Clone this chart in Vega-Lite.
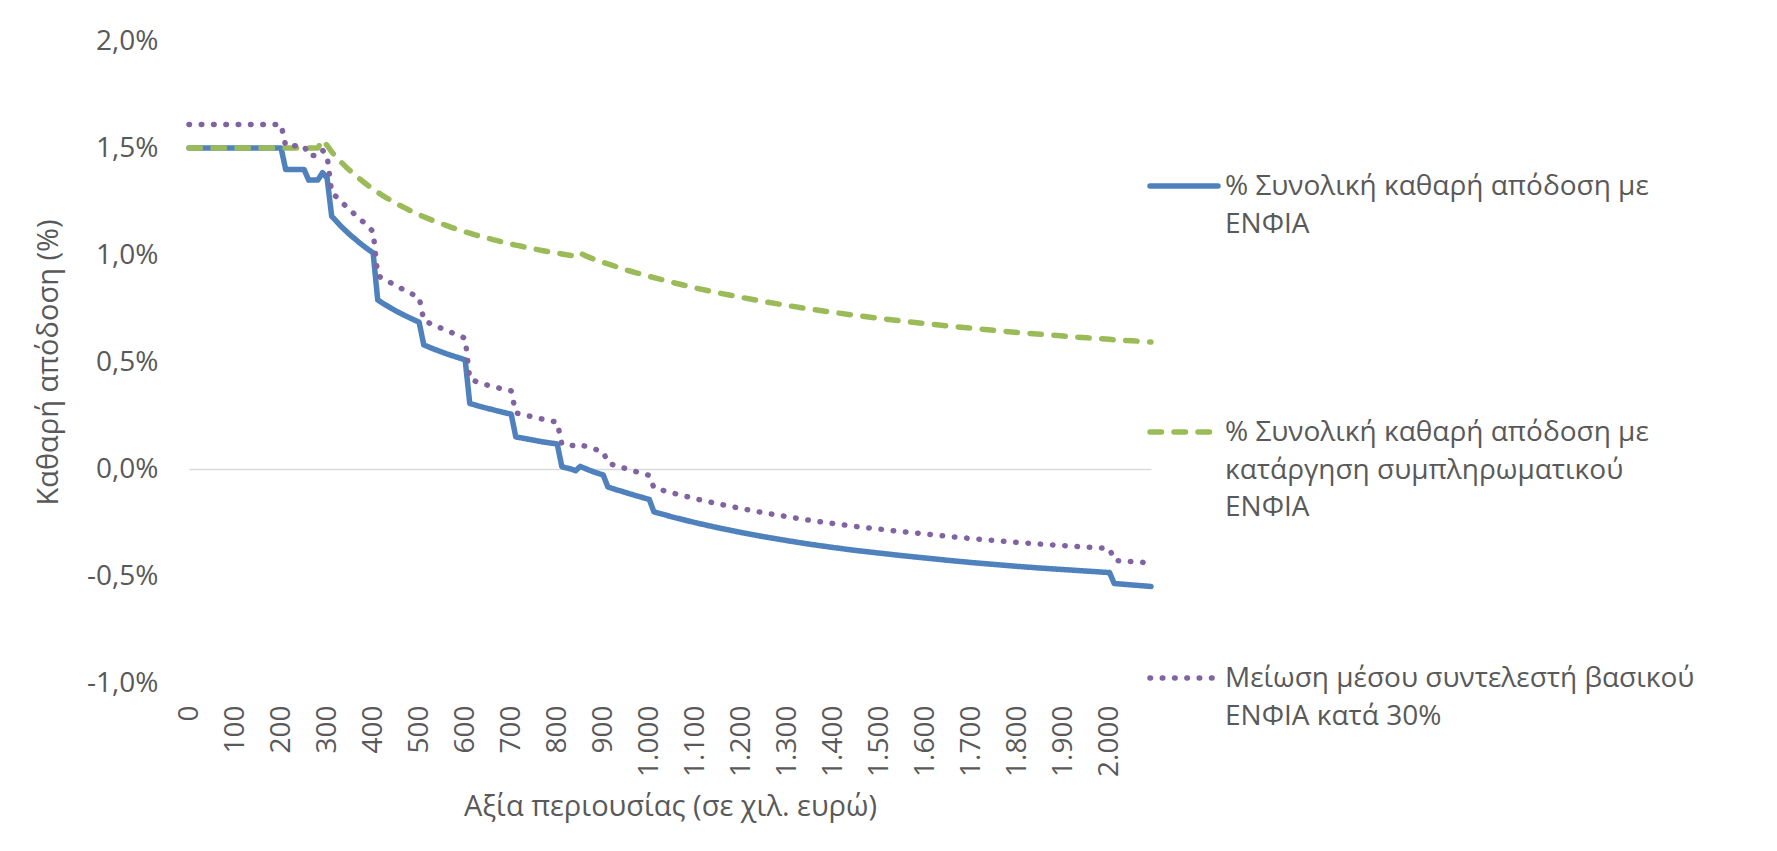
{
  "$schema": "https://vega.github.io/schema/vega-lite/v6.json",
  "width": 962,
  "height": 642,
  "autosize": {"type": "none"},
  "padding": {"left": 189, "top": 41, "right": 626, "bottom": 168},
  "background": "white",
  "config": {
    "view": {"stroke": null},
    "font": "Open Sans",
    "axis": {"labelFont": "Open Sans", "titleFont": "Open Sans", "labelColor": "#595959", "titleColor": "#595959", "titleFontWeight": "normal", "labelFontSize": 28, "titleFontSize": 29, "domain": false, "ticks": false, "tickSize": 0}
  },
  "data": {
    "values": [
      {"x": 0, "a": 1.5, "b": 1.5, "c": 1.61},
      {"x": 200, "a": 1.5, "b": 1.5, "c": 1.61},
      {"x": 210, "a": 1.4, "b": 1.5, "c": 1.51},
      {"x": 220, "a": 1.4, "b": 1.5, "c": 1.51},
      {"x": 230, "a": 1.4, "b": 1.5, "c": 1.51},
      {"x": 240, "a": 1.4, "b": 1.5, "c": 1.51},
      {"x": 250, "a": 1.4, "b": 1.5, "c": 1.51},
      {"x": 260, "a": 1.35, "b": 1.5, "c": 1.465},
      {"x": 270, "a": 1.35, "b": 1.5, "c": 1.465},
      {"x": 280, "a": 1.35, "b": 1.5, "c": 1.465},
      {"x": 290, "a": 1.385, "b": 1.537, "c": 1.49},
      {"x": 300, "a": 1.36, "b": 1.512, "c": 1.465},
      {"x": 310, "a": 1.181, "b": 1.482, "c": 1.29},
      {"x": 320, "a": 1.158, "b": 1.458, "c": 1.272},
      {"x": 330, "a": 1.135, "b": 1.435, "c": 1.251},
      {"x": 340, "a": 1.114, "b": 1.414, "c": 1.23},
      {"x": 350, "a": 1.094, "b": 1.394, "c": 1.21},
      {"x": 360, "a": 1.076, "b": 1.375, "c": 1.19},
      {"x": 370, "a": 1.058, "b": 1.357, "c": 1.17},
      {"x": 380, "a": 1.041, "b": 1.34, "c": 1.152},
      {"x": 390, "a": 1.025, "b": 1.323, "c": 1.13},
      {"x": 400, "a": 1.01, "b": 1.308, "c": 1.11},
      {"x": 410, "a": 0.79, "b": 1.293, "c": 0.903},
      {"x": 420, "a": 0.776, "b": 1.279, "c": 0.892},
      {"x": 430, "a": 0.763, "b": 1.266, "c": 0.88},
      {"x": 440, "a": 0.75, "b": 1.254, "c": 0.868},
      {"x": 450, "a": 0.738, "b": 1.241, "c": 0.857},
      {"x": 460, "a": 0.727, "b": 1.23, "c": 0.845},
      {"x": 470, "a": 0.716, "b": 1.219, "c": 0.834},
      {"x": 480, "a": 0.706, "b": 1.208, "c": 0.823},
      {"x": 490, "a": 0.696, "b": 1.198, "c": 0.812},
      {"x": 500, "a": 0.686, "b": 1.188, "c": 0.802},
      {"x": 510, "a": 0.58, "b": 1.179, "c": 0.695},
      {"x": 520, "a": 0.571, "b": 1.17, "c": 0.684},
      {"x": 530, "a": 0.562, "b": 1.161, "c": 0.674},
      {"x": 540, "a": 0.554, "b": 1.153, "c": 0.665},
      {"x": 550, "a": 0.546, "b": 1.145, "c": 0.656},
      {"x": 560, "a": 0.538, "b": 1.137, "c": 0.647},
      {"x": 570, "a": 0.531, "b": 1.129, "c": 0.638},
      {"x": 580, "a": 0.524, "b": 1.122, "c": 0.629},
      {"x": 590, "a": 0.517, "b": 1.115, "c": 0.62},
      {"x": 600, "a": 0.51, "b": 1.108, "c": 0.611},
      {"x": 610, "a": 0.306, "b": 1.102, "c": 0.42},
      {"x": 620, "a": 0.3, "b": 1.095, "c": 0.412},
      {"x": 630, "a": 0.294, "b": 1.089, "c": 0.404},
      {"x": 640, "a": 0.288, "b": 1.083, "c": 0.397},
      {"x": 650, "a": 0.282, "b": 1.078, "c": 0.391},
      {"x": 660, "a": 0.277, "b": 1.072, "c": 0.385},
      {"x": 670, "a": 0.271, "b": 1.067, "c": 0.38},
      {"x": 680, "a": 0.266, "b": 1.061, "c": 0.375},
      {"x": 690, "a": 0.261, "b": 1.056, "c": 0.37},
      {"x": 700, "a": 0.256, "b": 1.051, "c": 0.365},
      {"x": 710, "a": 0.15, "b": 1.046, "c": 0.262},
      {"x": 720, "a": 0.146, "b": 1.042, "c": 0.257},
      {"x": 730, "a": 0.142, "b": 1.037, "c": 0.252},
      {"x": 740, "a": 0.138, "b": 1.033, "c": 0.247},
      {"x": 750, "a": 0.134, "b": 1.028, "c": 0.242},
      {"x": 760, "a": 0.13, "b": 1.024, "c": 0.237},
      {"x": 770, "a": 0.126, "b": 1.02, "c": 0.232},
      {"x": 780, "a": 0.123, "b": 1.016, "c": 0.228},
      {"x": 790, "a": 0.12, "b": 1.012, "c": 0.223},
      {"x": 800, "a": 0.117, "b": 1.009, "c": 0.219},
      {"x": 810, "a": 0.011, "b": 1.005, "c": 0.116},
      {"x": 820, "a": 0.005, "b": 1.001, "c": 0.113},
      {"x": 830, "a": 0.0, "b": 0.998, "c": 0.111},
      {"x": 840, "a": -0.008, "b": 0.994, "c": 0.107},
      {"x": 850, "a": 0.012, "b": 1.009, "c": 0.113},
      {"x": 860, "a": 0.003, "b": 0.998, "c": 0.107},
      {"x": 870, "a": -0.006, "b": 0.989, "c": 0.1},
      {"x": 880, "a": -0.014, "b": 0.98, "c": 0.094},
      {"x": 890, "a": -0.021, "b": 0.972, "c": 0.087},
      {"x": 900, "a": -0.028, "b": 0.965, "c": 0.081},
      {"x": 910, "a": -0.084, "b": 0.958, "c": 0.028},
      {"x": 920, "a": -0.091, "b": 0.951, "c": 0.021},
      {"x": 930, "a": -0.098, "b": 0.944, "c": 0.014},
      {"x": 940, "a": -0.104, "b": 0.937, "c": 0.008},
      {"x": 950, "a": -0.111, "b": 0.93, "c": 0.001},
      {"x": 960, "a": -0.117, "b": 0.924, "c": -0.005},
      {"x": 970, "a": -0.124, "b": 0.918, "c": -0.012},
      {"x": 980, "a": -0.13, "b": 0.912, "c": -0.018},
      {"x": 990, "a": -0.136, "b": 0.905, "c": -0.024},
      {"x": 1000, "a": -0.142, "b": 0.9, "c": -0.03},
      {"x": 1010, "a": -0.2, "b": 0.894, "c": -0.088},
      {"x": 1050, "a": -0.224, "b": 0.872, "c": -0.112},
      {"x": 1100, "a": -0.251, "b": 0.846, "c": -0.139},
      {"x": 1150, "a": -0.275, "b": 0.823, "c": -0.163},
      {"x": 1200, "a": -0.297, "b": 0.802, "c": -0.185},
      {"x": 1250, "a": -0.317, "b": 0.782, "c": -0.205},
      {"x": 1300, "a": -0.335, "b": 0.764, "c": -0.223},
      {"x": 1350, "a": -0.352, "b": 0.747, "c": -0.24},
      {"x": 1400, "a": -0.367, "b": 0.732, "c": -0.255},
      {"x": 1450, "a": -0.381, "b": 0.717, "c": -0.269},
      {"x": 1500, "a": -0.393, "b": 0.704, "c": -0.281},
      {"x": 1550, "a": -0.405, "b": 0.691, "c": -0.293},
      {"x": 1600, "a": -0.416, "b": 0.679, "c": -0.304},
      {"x": 1650, "a": -0.427, "b": 0.668, "c": -0.315},
      {"x": 1700, "a": -0.437, "b": 0.658, "c": -0.325},
      {"x": 1750, "a": -0.446, "b": 0.648, "c": -0.334},
      {"x": 1800, "a": -0.455, "b": 0.638, "c": -0.343},
      {"x": 1850, "a": -0.463, "b": 0.63, "c": -0.351},
      {"x": 1900, "a": -0.47, "b": 0.621, "c": -0.358},
      {"x": 1950, "a": -0.477, "b": 0.613, "c": -0.365},
      {"x": 2000, "a": -0.484, "b": 0.606, "c": -0.372},
      {"x": 2010, "a": -0.535, "b": 0.604, "c": -0.427},
      {"x": 2050, "a": -0.542, "b": 0.599, "c": -0.433},
      {"x": 2090, "a": -0.549, "b": 0.593, "c": -0.439}
    ]
  },
  "transform": [{"fold": ["a", "b", "c"], "as": ["series", "value"]}],
  "mark": {"type": "line", "strokeWidth": 5.5, "strokeCap": "round", "strokeJoin": "round"},
  "encoding": {
    "x": {
      "field": "x",
      "type": "quantitative",
      "scale": {"domain": [0, 2090], "nice": false, "zero": false},
      "axis": {
        "title": "Αξία περιουσίας (σε χιλ. ευρώ)",
        "values": [0, 100, 200, 300, 400, 500, 600, 700, 800, 900, 1000, 1100, 1200, 1300, 1400, 1500, 1600, 1700, 1800, 1900, 2000],
        "labelExpr": "replace(format(datum.value, ','), ',', '.')",
        "labelAngle": -90,
        "labelPadding": 22,
        "titlePadding": 16,
        "grid": false,
        "labelOverlap": false
      }
    },
    "y": {
      "field": "value",
      "type": "quantitative",
      "scale": {"domain": [-1, 2], "nice": false, "zero": false},
      "axis": {
        "title": "Καθαρή απόδοση (%)",
        "values": [-1, -0.5, 0, 0.5, 1, 1.5, 2],
        "labelExpr": "replace(replace(format(datum.value, '.1f'), '.', ','), '\u2212', '-') + '%'",
        "labelPadding": 31,
        "titlePadding": 23,
        "grid": true,
        "gridWidth": 1.5,
        "gridColor": {"condition": {"test": "datum.value === 0", "value": "#D9D9D9"}, "value": "transparent"},
        "labelOverlap": false
      }
    },
    "color": {
      "field": "series",
      "type": "nominal",
      "scale": {"domain": ["a", "b", "c"], "range": ["#4F81BD", "#9BBB59", "#8064A2"]},
      "legend": {
        "title": null,
        "orient": "none",
        "legendX": 958,
        "legendY": 108,
        "direction": "vertical",
        "padding": 0,
        "symbolType": "stroke",
        "symbolSize": 4624,
        "symbolStrokeWidth": 5.5,
        "labelFont": "Open Sans",
        "labelFontSize": 28,
        "labelColor": "#595959",
        "labelLimit": 800,
        "labelBaseline": "top",
        "labelOffset": 4,
        "rowPadding": 119,
        "gridAlign": "all",
        "labelExpr": "datum.label == 'a' ? ['% Συνολική καθαρή απόδοση με', 'ΕΝΦΙΑ'] : datum.label == 'b' ? ['% Συνολική καθαρή απόδοση με', 'κατάργηση συμπληρωματικού', 'ΕΝΦΙΑ'] : ['Μείωση μέσου συντελεστή βασικού', 'ΕΝΦΙΑ κατά 30%']",
        "encode": {
          "labels": {"update": {"lineHeight": {"value": 37.5}, "dy": {"value": -13}}},
          "symbols": {"update": {"strokeCap": {"value": "round"}}}
        }
      }
    },
    "strokeDash": {
      "field": "series",
      "type": "nominal",
      "scale": {"domain": ["a", "b", "c"], "range": [[1, 0], [11.5, 12.5], [0.5, 11.8]]},
      "legend": {
        "title": null,
        "orient": "none",
        "legendX": 958,
        "legendY": 108,
        "direction": "vertical",
        "padding": 0,
        "symbolType": "stroke",
        "symbolSize": 4624,
        "symbolStrokeWidth": 5.5,
        "labelFont": "Open Sans",
        "labelFontSize": 28,
        "labelColor": "#595959",
        "labelLimit": 800,
        "labelBaseline": "top",
        "labelOffset": 4,
        "rowPadding": 119,
        "gridAlign": "all",
        "labelExpr": "datum.label == 'a' ? ['% Συνολική καθαρή απόδοση με', 'ΕΝΦΙΑ'] : datum.label == 'b' ? ['% Συνολική καθαρή απόδοση με', 'κατάργηση συμπληρωματικού', 'ΕΝΦΙΑ'] : ['Μείωση μέσου συντελεστή βασικού', 'ΕΝΦΙΑ κατά 30%']",
        "encode": {
          "labels": {"update": {"lineHeight": {"value": 37.5}, "dy": {"value": -13}}},
          "symbols": {"update": {"strokeCap": {"value": "round"}}}
        }
      }
    }
  }
}
